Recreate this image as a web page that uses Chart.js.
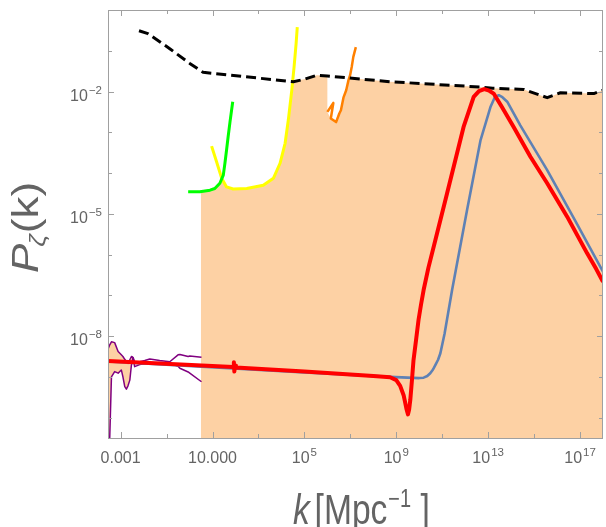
<!DOCTYPE html>
<html><head><meta charset="utf-8">
<script src="https://cdn.jsdelivr.net/npm/chart.js@4/dist/chart.umd.min.js"></script>
<style>html,body{margin:0;padding:0;background:#fff}canvas{display:block}</style>
</head><body>
<canvas id="c" width="606" height="527"></canvas>
<script>
// All values are log10(k [Mpc^-1]) and log10(P_zeta)
const redLogK = [-3.55, 1.90, 1.93, 1.95, 1.98, 2.02, 5.0, 8.0, 8.73, 9.0, 9.17, 9.32, 9.45, 9.51, 9.56, 9.61, 9.68, 9.75, 9.86, 9.97, 10.08, 10.19, 10.4, 10.7, 11.21, 11.93, 12.37, 12.6, 12.83, 13.05, 13.24, 13.6, 14.11, 14.84, 15.57, 16.44, 17.31, 17.7, 18.0];
const redLogP = [-8.61, -8.76, -8.64, -8.87, -8.72, -8.77, -8.87, -8.98, -9.01, -9.08, -9.22, -9.45, -9.80, -9.92, -9.80, -9.57, -9.10, -8.59, -8.10, -7.60, -7.22, -6.87, -6.32, -5.65, -4.50, -2.87, -2.13, -1.99, -1.94, -1.98, -2.05, -2.38, -2.87, -3.60, -4.25, -5.07, -5.97, -6.35, -6.67];

const blueLogK = [-3.55, 5.0, 8.73, 10.0, 10.19, 10.35, 10.48, 10.60, 10.70, 10.82, 10.92, 11.1, 11.43, 12.08, 12.67, 13.10, 13.3, 13.46, 13.62, 13.83, 14.40, 15.57, 16.8, 18.0];
const blueLogP = [-8.62, -8.89, -9.00, -9.03, -9.02, -8.98, -8.91, -8.82, -8.71, -8.58, -8.42, -7.95, -6.87, -4.91, -3.19, -2.38, -2.13, -2.09, -2.14, -2.25, -2.83, -3.93, -5.18, -6.42];

const dashLogK = [-2.20, -1.81, -0.86, 0.01, 0.59, 4.52, 5.0, 5.54, 6.0, 8.74, 12.66, 13.2, 14.55, 15.57, 16.15, 17.60, 18.0];
const dashLogP = [-0.51, -0.58, -0.95, -1.31, -1.53, -1.76, -1.70, -1.60, -1.62, -1.76, -1.89, -1.92, -1.95, -2.15, -2.03, -2.05, -1.97];

const greenLogK = [-0.06, 0.45, 0.89, 1.10, 1.32, 1.47, 1.54, 1.61, 1.68, 1.76, 1.88];
const greenLogP = [-4.46, -4.46, -4.42, -4.38, -4.25, -4.05, -3.76, -3.44, -3.11, -2.75, -2.25];

const yellowLogK = [0.96, 1.18, 1.40, 1.61, 1.90, 2.49, 3.21, 3.65, 3.94, 4.16, 4.30, 4.45, 4.55, 4.64, 4.69];
const yellowLogP = [-3.34, -3.73, -4.13, -4.34, -4.39, -4.38, -4.30, -4.13, -3.76, -3.27, -2.70, -1.97, -1.40, -0.82, -0.42];

const orangeLogK = [6.0, 6.26, 6.15, 6.38, 6.52, 6.59, 6.70, 6.82, 6.92, 6.99, 7.06, 7.13, 7.24];
const orangeLogP = [-2.50, -2.28, -2.66, -2.75, -2.54, -2.46, -2.15, -1.97, -1.72, -1.60, -1.40, -1.15, -0.91];

// CMB contour (purple), left part (shaded between) and right part
const cmbLeftLogK = [-3.55, -3.48, -3.40, -3.26, -3.11, -2.97, -2.90, -2.82, -2.75, -2.68, -2.60, -2.53, -2.46];
const cmbLeftUpLogP = [-8.32, -8.22, -8.14, -8.16, -8.38, -8.46, -8.50, -8.57, -8.62, -8.67, -8.58, -8.50, -8.52];
const cmbLeftLowLogP = [-10.6, -10.6, -9.00, -8.87, -8.91, -8.83, -9.00, -9.24, -9.30, -9.22, -9.08, -8.71, -8.52];
const cmbRightLogK = [-2.46, -2.39, -2.17, -1.95, -1.73, -1.30, -0.86, -0.50, -0.42, -0.06, 0.01, 0.52];
const cmbRightUpLogP = [-8.52, -8.63, -8.63, -8.60, -8.56, -8.60, -8.63, -8.46, -8.45, -8.50, -8.49, -8.52];
const cmbRightLowLogP = [-8.52, -8.75, -8.70, -8.68, -8.66, -8.65, -8.66, -8.74, -8.79, -8.88, -8.91, -9.12];

// Upper edge of the shaded allowed region
const envLogK = [0.49, 0.89, 1.10, 1.32, 1.42, 1.61, 1.90, 2.49, 3.21, 3.65, 3.94, 4.16, 4.30, 4.45, 4.50, 5.0, 5.54, 6.0, 6.0, 6.15, 6.38, 6.52, 6.70, 6.82, 6.92, 6.97, 8.74, 12.66, 13.2, 14.55, 15.57, 16.15, 17.60, 18.0];
const envLogP = [-4.46, -4.42, -4.38, -4.25, -4.15, -4.34, -4.39, -4.38, -4.30, -4.13, -3.76, -3.27, -2.70, -1.97, -1.75, -1.70, -1.60, -1.62, -2.50, -2.66, -2.75, -2.54, -2.15, -1.97, -1.72, -1.67, -1.76, -1.89, -1.92, -1.95, -2.15, -2.03, -2.05, -1.97];

// Tick positions (exponents) and labels; "^" marks a superscript exponent
const xTickExp = [-3, -1, 1, 3, 5, 7, 9, 11, 13, 15, 17];
const xTickLabels = ['0.001', '', '10.000', '', '10^5', '', '10^9', '', '10^13', '', '10^17'];
const yTickExp = [-10, -9, -8, -7, -6, -5, -4, -3, -2, -1];
const yTickLabels = ['', '', '10^\u22128', '', '', '10^\u22125', '', '', '10^\u22122', ''];

const X_MIN_EXP = -3.55, X_MAX_EXP = 18.0, Y_MIN_EXP = -10.5, Y_MAX_EXP = 0;

const FILL = 'rgb(253,209,164)';
const GREYTXT = '#646464';
const FRAME = '#a0a0a0';
const FAM = '"Liberation Sans", Arial, sans-serif';

const toPts = (ks, ps) => ks.map((k, i) => ({ x: Math.pow(10, k), y: Math.pow(10, ps[i]) }));
const line = (label, ks, ps, color, width, extra) => Object.assign({
  label, data: toPts(ks, ps), borderColor: color, backgroundColor: color,
  borderWidth: width, pointRadius: 0, showLine: true, fill: false, tension: 0,
  borderJoinStyle: 'round', borderCapStyle: 'butt'
}, extra || {});

// draws "base^exp" label; align: 'center' or 'right'
function drawSupLabel(ctx, text, x, baseY, align) {
  const parts = text.split('^');
  ctx.font = '16px ' + FAM;
  const wb = ctx.measureText(parts[0]).width;
  let we = 0;
  if (parts[1]) { ctx.font = '11.5px ' + FAM; we = ctx.measureText(parts[1]).width + 1; }
  const total = wb + we;
  let x0 = align === 'center' ? x - total / 2 : x - total;
  ctx.font = '16px ' + FAM;
  ctx.fillText(parts[0], x0, baseY);
  if (parts[1]) {
    ctx.font = '11.5px ' + FAM;
    ctx.fillText(parts[1], x0 + wb + 1, baseY - 7);
  }
}

const framePlugin = {
  id: 'frameTicks',
  afterDatasetsDraw(chart) {
    const { ctx, chartArea: a, scales } = chart;
    ctx.save();
    ctx.strokeStyle = FRAME;
    ctx.lineWidth = 1;
    ctx.strokeRect(Math.round(a.left) + 0.5, Math.round(a.top) + 0.5, Math.round(a.right - a.left) - 1, Math.round(a.bottom - a.top));
    ctx.beginPath();
    xTickExp.forEach((e, i) => {
      const px = Math.round(scales.x.getPixelForValue(Math.pow(10, e))) + 0.5;
      const len = xTickLabels[i] ? 6 : 4;
      ctx.moveTo(px, a.bottom); ctx.lineTo(px, a.bottom - len);
      ctx.moveTo(px, a.top); ctx.lineTo(px, a.top + len);
    });
    yTickExp.forEach((e, i) => {
      const py = Math.round(scales.y.getPixelForValue(Math.pow(10, e))) + 0.5;
      const len = yTickLabels[i] ? 6 : 4;
      ctx.moveTo(a.left, py); ctx.lineTo(a.left + len, py);
      ctx.moveTo(a.right, py); ctx.lineTo(a.right - len, py);
    });
    ctx.stroke();
    // tick labels
    ctx.fillStyle = GREYTXT;
    ctx.textBaseline = 'alphabetic';
    ctx.textAlign = 'left';
    xTickExp.forEach((e, i) => {
      if (!xTickLabels[i]) return;
      const px = scales.x.getPixelForValue(Math.pow(10, e));
      drawSupLabel(ctx, xTickLabels[i], px, a.bottom + 25, 'center');
    });
    yTickExp.forEach((e, i) => {
      if (!yTickLabels[i]) return;
      const py = scales.y.getPixelForValue(Math.pow(10, e));
      drawSupLabel(ctx, yTickLabels[i], a.left - 6, py + 9, 'right');
    });
    ctx.restore();
  }
};

const titlePlugin = {
  id: 'axisTitles',
  afterDraw(chart) {
    const ctx = chart.ctx;
    ctx.save();
    ctx.fillStyle = GREYTXT;
    ctx.textBaseline = 'alphabetic';
    ctx.textAlign = 'left';
    // x title: k [Mpc^-1]
    ctx.save();
    ctx.translate(293, 524);
    ctx.scale(0.8, 1);
    let x = 0;
    ctx.font = 'italic 42px ' + FAM;
    ctx.fillText('k', x, 0); x += ctx.measureText('k').width + 6;
    ctx.font = '42px ' + FAM;
    ctx.fillText('[Mpc', x, 0); x += ctx.measureText('[Mpc').width + 1;
    ctx.font = '25px ' + FAM;
    ctx.fillText('\u22121', x, -17); x += ctx.measureText('\u22121').width + 12;
    ctx.font = '42px ' + FAM;
    ctx.fillText(']', x, 0);
    ctx.restore();
    // y title: P_zeta(k)
    ctx.save();
    ctx.translate(38, 273);
    ctx.rotate(-Math.PI / 2);
    ctx.scale(1, 0.82);
    let y = 0;
    ctx.font = 'italic 44px ' + FAM;
    ctx.fillText('P', y, 0); y += ctx.measureText('P').width - 3;
    ctx.font = 'italic 27px ' + FAM;
    ctx.fillText('\u03B6', y, 9); y += ctx.measureText('\u03B6').width + 1;
    ctx.font = '44px ' + FAM;
    ctx.fillText('(k)', y, 0);
    ctx.restore();
    ctx.restore();
  }
};

Chart.defaults.font.family = FAM;

new Chart(document.getElementById('c'), {
  type: 'scatter',
  data: {
    datasets: [
      line('P(k) model B', redLogK, redLogP, 'rgb(255,0,0)', 4),
      line('P(k) model A', blueLogK, blueLogP, 'rgb(94,129,181)', 2.6),
      line('Upper bound', dashLogK, dashLogP, '#000000', 3, { borderDash: [10, 5] }),
      line('Green constraint', greenLogK, greenLogP, 'rgb(0,255,0)', 3),
      line('Yellow constraint', yellowLogK, yellowLogP, 'rgb(255,255,0)', 3),
      line('Orange constraint', orangeLogK, orangeLogP, 'rgb(255,128,0)', 2.5),
      line('CMB upper (left)', cmbLeftLogK, cmbLeftUpLogP, 'rgb(128,0,128)', 1.5, { fill: '+1', backgroundColor: FILL }),
      line('CMB lower (left)', cmbLeftLogK, cmbLeftLowLogP, 'rgb(128,0,128)', 1.5),
      line('CMB upper', cmbRightLogK, cmbRightUpLogP, 'rgb(128,0,128)', 1.5),
      line('CMB lower', cmbRightLogK, cmbRightLowLogP, 'rgb(128,0,128)', 1.5),
      line('Allowed region', envLogK, envLogP, 'rgba(0,0,0,0)', 0, { fill: 'start', backgroundColor: FILL })
    ]
  },
  options: {
    responsive: false,
    animation: false,
    layout: { padding: { top: 10, right: 3, left: 0, bottom: 0 } },
    plugins: {
      legend: { display: false },
      tooltip: { enabled: false },
      filler: { drawTime: 'beforeDatasetsDraw' }
    },
    scales: {
      x: {
        type: 'logarithmic',
        min: Math.pow(10, X_MIN_EXP), max: Math.pow(10, X_MAX_EXP),
        grid: { display: false, drawTicks: false },
        border: { display: false },
        afterBuildTicks: s => { s.ticks = xTickExp.map(e => ({ value: Math.pow(10, e) })); },
        afterFit: s => { s.height = 89; s.paddingLeft = 0; s.paddingRight = 0; },
        ticks: { display: false, autoSkip: false, maxRotation: 0, callback: (v, i) => xTickLabels[i] }
      },
      y: {
        type: 'logarithmic',
        min: Math.pow(10, Y_MIN_EXP), max: Math.pow(10, Y_MAX_EXP),
        grid: { display: false, drawTicks: false },
        border: { display: false },
        afterBuildTicks: s => { s.ticks = yTickExp.map(e => ({ value: Math.pow(10, e) })); },
        afterFit: s => { s.width = 108; s.paddingTop = 0; s.paddingBottom = 0; },
        ticks: { display: false, autoSkip: false, callback: (v, i) => yTickLabels[i] }
      }
    }
  },
  plugins: [framePlugin, titlePlugin]
});
</script>
</body></html>
